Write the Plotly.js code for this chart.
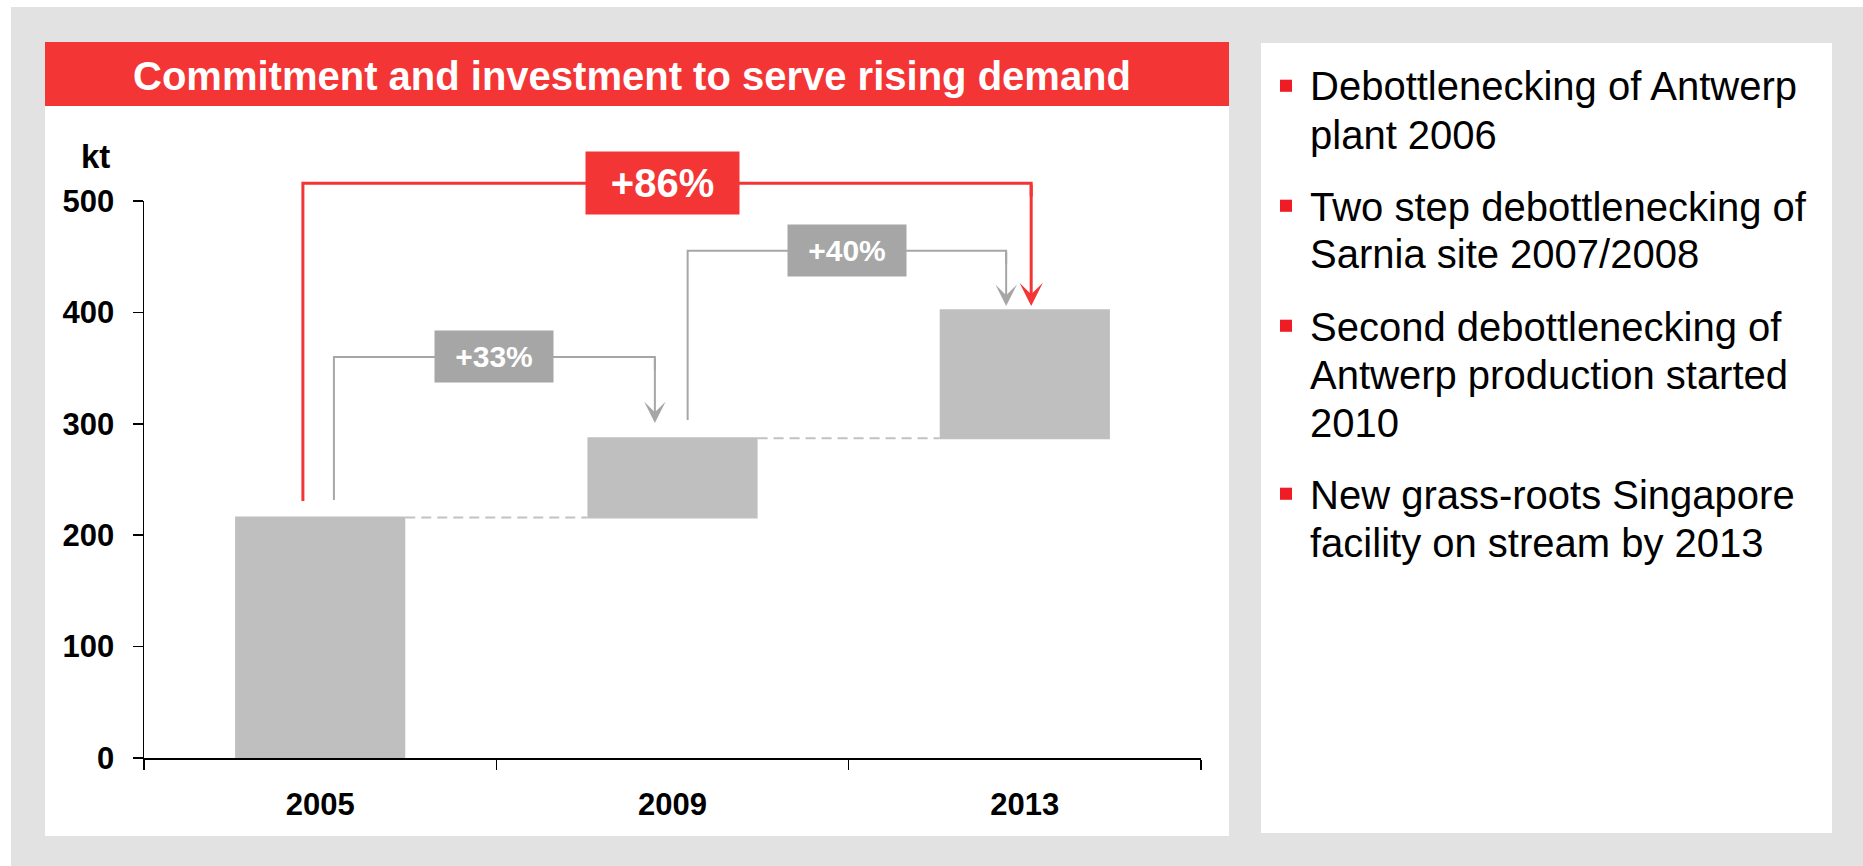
<!DOCTYPE html>
<html><head><meta charset="utf-8">
<script src="https://cdn.plot.ly/plotly-3.0.1.min.js"></script>
<style>html,body{margin:0;padding:0;background:#fff;overflow:hidden}#chart{width:1863px;height:866px;}</style>
</head><body><div id="chart"></div>
<script>
// ---- data ----
const years = ['2005', '2009', '2013'];
const capacity = [216, 287, 402];              // kt
const growthLabels = ['+33%', '+40%', '+86%'];
const yTickVals = [0, 100, 200, 300, 400, 500];
const yTickText = ['0', '100', '200', '300', '400', '500'];
const titleText = 'Commitment and investment to serve rising demand';
const unitLabel = 'kt';
const bullets = [
  'Debottlenecking of Antwerp<br>plant 2006',
  'Two step debottlenecking of<br>Sarnia site 2007/2008',
  'Second debottlenecking of<br>Antwerp production started<br>2010',
  'New grass-roots Singapore<br>facility on stream by 2013'
];

// ---- layout geometry (pixels) ----
const W = 1863, H = 866, L = 144, R = 1201, T = 201, B = 758;
const Y_MAX = 500;
const px = p => (p - L) / (R - L);
const py = p => (B - p) / (B - T);
const yv = v => v / Y_MAX;                      // value -> paper y
const pxPerUnit = (B - T) / Y_MAX;
const RED = '#f43535', BG = '#e2e2e2', BAR = '#bfbfbf', ARW = '#a6a6a6', BUL = '#ee1c25';
const FONT = 'Liberation Sans, Arial, Helvetica, sans-serif';

const measures = capacity.map((v, i) => i === 0 ? 'absolute' : 'relative');
const deltas = capacity.map((v, i) => i === 0 ? v : v - capacity[i - 1]);

const trace = {
  type: 'waterfall', x: years, y: deltas, measure: measures, width: 0.483,
  increasing: {marker: {color: BAR}}, decreasing: {marker: {color: BAR}}, totals: {marker: {color: BAR}},
  connector: {mode: 'between', line: {color: '#c2c2c2', width: 2, dash: '10px,6px'}},
  textinfo: 'none', hoverinfo: 'skip', showlegend: false
};

const shapes = [];
const annotations = [];
const rect = (x0, y0, x1, y1, color) => shapes.push({type: 'rect', xref: 'paper', yref: 'paper',
  x0: px(x0), x1: px(x1), y0: py(y1), y1: py(y0), fillcolor: color, line: {width: 0}, layer: 'below'});
rect(11, 7, 1863, 866, BG);
rect(45, 42, 1229, 836, '#ffffff');
rect(45, 42, 1229, 106, RED);
rect(1261, 43, 1832, 833, '#ffffff');

annotations.push({xref: 'paper', yref: 'paper', x: px(632), y: py(76), xanchor: 'center', yanchor: 'middle',
  text: titleText, showarrow: false, font: {family: FONT, size: 40, color: '#ffffff', weight: 'bold'}});
annotations.push({xref: 'paper', yref: 'paper', x: px(95.5), y: py(156), xanchor: 'center', yanchor: 'middle',
  text: unitLabel, showarrow: false, font: {family: FONT, size: 33, color: '#000000', weight: 'bold'}});

// growth brackets between categories
const brackets = [
  {from: 0, to: 1, dx0: 0.039, dx1: -0.050, so: 15.6, tipOff: 13.7, top: 360, lab: 0, color: ARW, lw: 2, hs: 1.8, bw: 118, bh: 51, fs: 30},
  {from: 1, to: 2, dx0: 0.043, dx1: -0.053, so: 16.4, tipOff: 3.7, top: 455.4, lab: 1, color: ARW, lw: 2, hs: 1.8, bw: 118, bh: 51, fs: 30},
  {from: 0, to: 2, dx0: -0.049, dx1: 0.018, so: 14.7, tipOff: 3.7, top: 516, lab: 2, color: RED, lw: 3, hs: 1.3, bw: 153, bh: 62, fs: 40, cx: 0.972}
];
brackets.forEach(b => {
  const x0 = b.from + b.dx0, x1 = b.to + b.dx1;
  const y0 = capacity[b.from] + b.so, tip = capacity[b.to] + b.tipOff;
  const down = b.top - 12;
  shapes.push({type: 'path', xref: 'x', yref: 'paper',
    path: `M${x0},${yv(y0)} L${x0},${yv(b.top)} L${x1},${yv(b.top)} L${x1},${yv(down)}`,
    line: {color: b.color, width: b.lw}, layer: 'above'});
  annotations.push({xref: 'x', yref: 'y', axref: 'pixel', ayref: 'pixel', x: x1, y: tip, ax: 0, ay: -(b.top - tip) * pxPerUnit,
    text: '', showarrow: true, arrowhead: 3, arrowsize: b.hs, arrowwidth: b.lw, arrowcolor: b.color, standoff: 0, startstandoff: 0});
  annotations.push({xref: 'x', yref: 'paper', x: b.cx !== undefined ? b.cx : (x0 + x1) / 2, y: yv(b.top), xanchor: 'center', yanchor: 'middle',
    text: growthLabels[b.lab], showarrow: false, width: b.bw, height: b.bh, borderpad: 0, bgcolor: b.color, valign: 'middle',
    font: {family: FONT, size: b.fs, color: '#ffffff', weight: 'bold'}});
});

// bullets on the right panel
let lineCount = 0;
bullets.forEach((para, pi) => {
  const lines = para.split('<br>');
  lines.forEach((ln, li) => {
    const base = 100 + lineCount * 48 + pi * 24;
    if (li === 0) rect(1280, base - 20.3, 1292, base - 8.2, BUL);
    annotations.push({xref: 'paper', yref: 'paper', x: px(1309), y: py(base - 13.5), xanchor: 'left', yanchor: 'middle',
      text: ln, showarrow: false, borderpad: 0, font: {family: FONT, size: 40, color: '#000000'}});
    lineCount++;
  });
});

const layout = {
  width: W, height: H, margin: {l: L, r: W - R, t: T, b: H - B, pad: 0},
  paper_bgcolor: '#ffffff', plot_bgcolor: 'rgba(0,0,0,0)', showlegend: false,
  font: {family: FONT, color: '#000000'},
  xaxis: {type: 'category', categoryorder: 'array', categoryarray: years, range: [-0.5, 2.5],
    showline: true, linecolor: '#000000', linewidth: 2, ticks: 'outside', tickson: 'boundaries', ticklen: 10, tickwidth: 1.5, tickcolor: '#000000',
    showgrid: false, zeroline: false, tickfont: {family: FONT, size: 31, color: '#000000', weight: 'bold'}, ticklabelstandoff: 18, fixedrange: true},
  yaxis: {range: [0, Y_MAX], tickvals: yTickVals, ticktext: yTickText, showline: true, linecolor: '#000000', linewidth: 1.5,
    ticks: 'outside', ticklen: 10, tickwidth: 1.5, tickcolor: '#000000', showgrid: false, zeroline: false,
    tickfont: {family: FONT, size: 31, color: '#000000', weight: 'bold'}, ticklabelstandoff: 12, fixedrange: true},
  shapes: shapes, annotations: annotations
};
Plotly.newPlot('chart', [trace], layout, {displayModeBar: false, staticPlot: true});
</script></body></html>
